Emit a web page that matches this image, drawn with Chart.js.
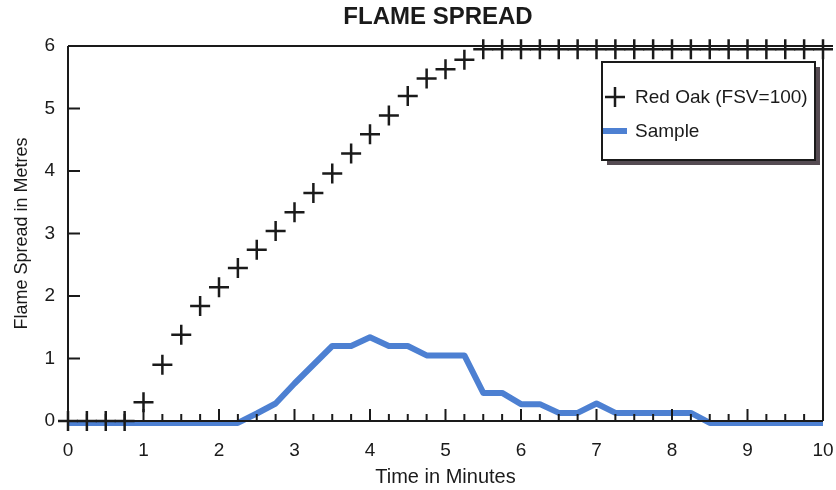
<!DOCTYPE html>
<html>
<head>
<meta charset="utf-8">
<script src="https://cdn.jsdelivr.net/npm/chart.js@4.4.1/dist/chart.umd.min.js"></script>
<style>
  html, body { margin: 0; padding: 0; background: #fff; }
  #wrap { width: 836px; height: 490px; }
</style>
</head>
<body>
<div id="wrap"><canvas id="flameChart" width="836" height="490"></canvas></div>
<script>
// readings every quarter minute
const minutes = [0, 0.25, 0.5, 0.75, 1, 1.25, 1.5, 1.75, 2, 2.25, 2.5, 2.75, 3, 3.25, 3.5, 3.75,
    4, 4.25, 4.5, 4.75, 5, 5.25, 5.5, 5.75, 6, 6.25, 6.5, 6.75, 7, 7.25, 7.5, 7.75,
    8, 8.25, 8.5, 8.75, 9, 9.25, 9.5, 9.75, 10];

const redOak = [0, 0, 0, 0, 0.3, 0.9, 1.38, 1.84, 2.14, 2.45, 2.74, 3.04, 3.34, 3.65, 3.96, 4.28,
    4.59, 4.89, 5.2, 5.48, 5.63, 5.78, 5.95, 5.95, 5.95, 5.95, 5.95, 5.95, 5.95, 5.95, 5.95, 5.95,
    5.95, 5.95, 5.95, 5.95, 5.95, 5.95, 5.95, 5.95, 5.95];

const sample = [-0.03, -0.03, -0.03, -0.03, -0.03, -0.03, -0.03, -0.03, -0.03, -0.03, 0.12, 0.28, 0.6, 0.9, 1.2, 1.2,
    1.34, 1.2, 1.2, 1.05, 1.05, 1.05, 0.45, 0.45, 0.27, 0.27, 0.13, 0.13, 0.28, 0.13, 0.13, 0.13,
    0.13, 0.13, -0.03, -0.03, -0.03, -0.03, -0.03, -0.03, -0.03];

const xTicks = [0, 1, 2, 3, 4, 5, 6, 7, 8, 9, 10];
const yTicks = [0, 1, 2, 3, 4, 5, 6];

const seriesNames = ['Red Oak (FSV=100)', 'Sample'];
const chartTitle = 'FLAME SPREAD';
const xTitle = 'Time in Minutes';
const yTitle = 'Flame Spread in Metres';

const FONT = '"Liberation Sans", Arial, Helvetica, sans-serif';
const INK = '#1a1a1a';
const BLUE = '#4d80d2';

const toPoints = (xs, ys) => xs.map((x, i) => ({ x: x, y: ys[i] }));

// axes frame with inward tick marks, drawn over the data
const framePlugin = {
    id: 'frame',
    afterDatasetsDraw(chart) {
        const { ctx, chartArea: a, scales: { x, y } } = chart;
        ctx.save();
        ctx.strokeStyle = INK;
        ctx.lineWidth = 2;
        ctx.beginPath();
        ctx.moveTo(a.left, a.top);
        ctx.lineTo(a.left, a.bottom);
        ctx.lineTo(a.right, a.bottom);
        ctx.moveTo(a.left, a.top);
        ctx.lineTo(chart.width - 3, a.top);
        ctx.moveTo(a.right, a.top);
        ctx.lineTo(a.right, a.bottom);

        // minor ticks every quarter minute, longer at whole minutes
        for (let i = 0; i <= 40; i++) {
            const px = x.getPixelForValue(i / 4);
            const len = i % 4 === 0 ? 12 : 7;
            ctx.moveTo(px, a.bottom);
            ctx.lineTo(px, a.bottom - len);
        }
        yTicks.forEach(v => {
            const py = y.getPixelForValue(v);
            ctx.moveTo(a.left, py);
            ctx.lineTo(a.left + 12, py);
        });
        ctx.stroke();
        ctx.restore();
    }
};

// title and boxed legend with a drop shadow
const decorPlugin = {
    id: 'decor',
    afterDraw(chart) {
        const { ctx, chartArea: a } = chart;
        ctx.save();
        ctx.fillStyle = INK;
        ctx.font = 'bold 24px ' + FONT;
        ctx.textAlign = 'center';
        ctx.textBaseline = 'middle';
        ctx.fillText(chartTitle, 438, 17);

        const bx = a.right - 221, by = a.top + 16, bw = 213, bh = 98;
        ctx.fillStyle = '#554b52';
        ctx.fillRect(bx + 5, by + 5, bw, bh);
        ctx.fillStyle = '#fff';
        ctx.fillRect(bx, by, bw, bh);
        ctx.strokeStyle = INK;
        ctx.lineWidth = 2;
        ctx.strokeRect(bx, by, bw, bh);

        const ds = chart.data.datasets;
        ctx.font = '19px ' + FONT;
        ctx.textAlign = 'left';
        ctx.fillStyle = INK;

        // cross marker row
        const r1 = by + 35;
        ctx.lineWidth = 2.5;
        ctx.beginPath();
        ctx.moveTo(bx + 3, r1); ctx.lineTo(bx + 23, r1);
        ctx.moveTo(bx + 13, r1 - 10); ctx.lineTo(bx + 13, r1 + 10);
        ctx.stroke();
        ctx.fillText(ds[0].label, bx + 33, r1 + 1);

        // line swatch row
        const r2 = by + 69;
        ctx.fillStyle = BLUE;
        ctx.fillRect(bx + 1, r2 - 3, 24, 6);
        ctx.fillStyle = INK;
        ctx.fillText(ds[1].label, bx + 33, r2 + 1);
        ctx.restore();
    }
};

new Chart(document.getElementById('flameChart'), {
    type: 'scatter',
    data: {
        datasets: [
            {
                label: seriesNames[0],
                data: toPoints(minutes, redOak),
                showLine: false,
                pointStyle: 'cross',
                pointRadius: 10,
                pointBorderWidth: 2.5,
                borderColor: INK,
                backgroundColor: INK,
                clip: false
            },
            {
                label: seriesNames[1],
                data: toPoints(minutes, sample),
                showLine: true,
                borderColor: BLUE,
                borderWidth: 6,
                pointRadius: 0,
                tension: 0,
                borderJoinStyle: 'round',
                clip: false
            }
        ]
    },
    options: {
        responsive: false,
        animation: false,
        layout: { padding: { top: 46, right: 13, left: 0, bottom: 0 } },
        plugins: {
            legend: { display: false },
            title: { display: false },
            tooltip: { enabled: false }
        },
        scales: {
            x: {
                type: 'linear',
                min: 0,
                max: 10,
                afterFit: scale => {
                    scale.height = 69;
                    scale.paddingLeft = 0;
                    scale.paddingRight = 0;
                },
                afterBuildTicks: scale => { scale.ticks = xTicks.map(v => ({ value: v })); },
                grid: { display: false, drawTicks: false },
                border: { display: false },
                ticks: { color: INK, padding: 18, font: { family: FONT, size: 19 }, maxRotation: 0 },
                title: { display: true, text: xTitle, color: INK, padding: { top: 0, bottom: 1 }, font: { family: FONT, size: 20 } }
            },
            y: {
                min: 0,
                max: 6,
                afterFit: scale => {
                    scale.width = 68;
                    scale.paddingTop = 0;
                    scale.paddingBottom = 0;
                },
                afterBuildTicks: scale => { scale.ticks = yTicks.map(v => ({ value: v })); },
                grid: { display: false, drawTicks: false },
                border: { display: false },
                ticks: { color: INK, padding: 13, font: { family: FONT, size: 19 } },
                title: { display: true, text: yTitle, color: INK, padding: { top: 11, bottom: 0 }, font: { family: FONT, size: 18 } }
            }
        }
    },
    plugins: [framePlugin, decorPlugin]
});
</script>
</body>
</html>
